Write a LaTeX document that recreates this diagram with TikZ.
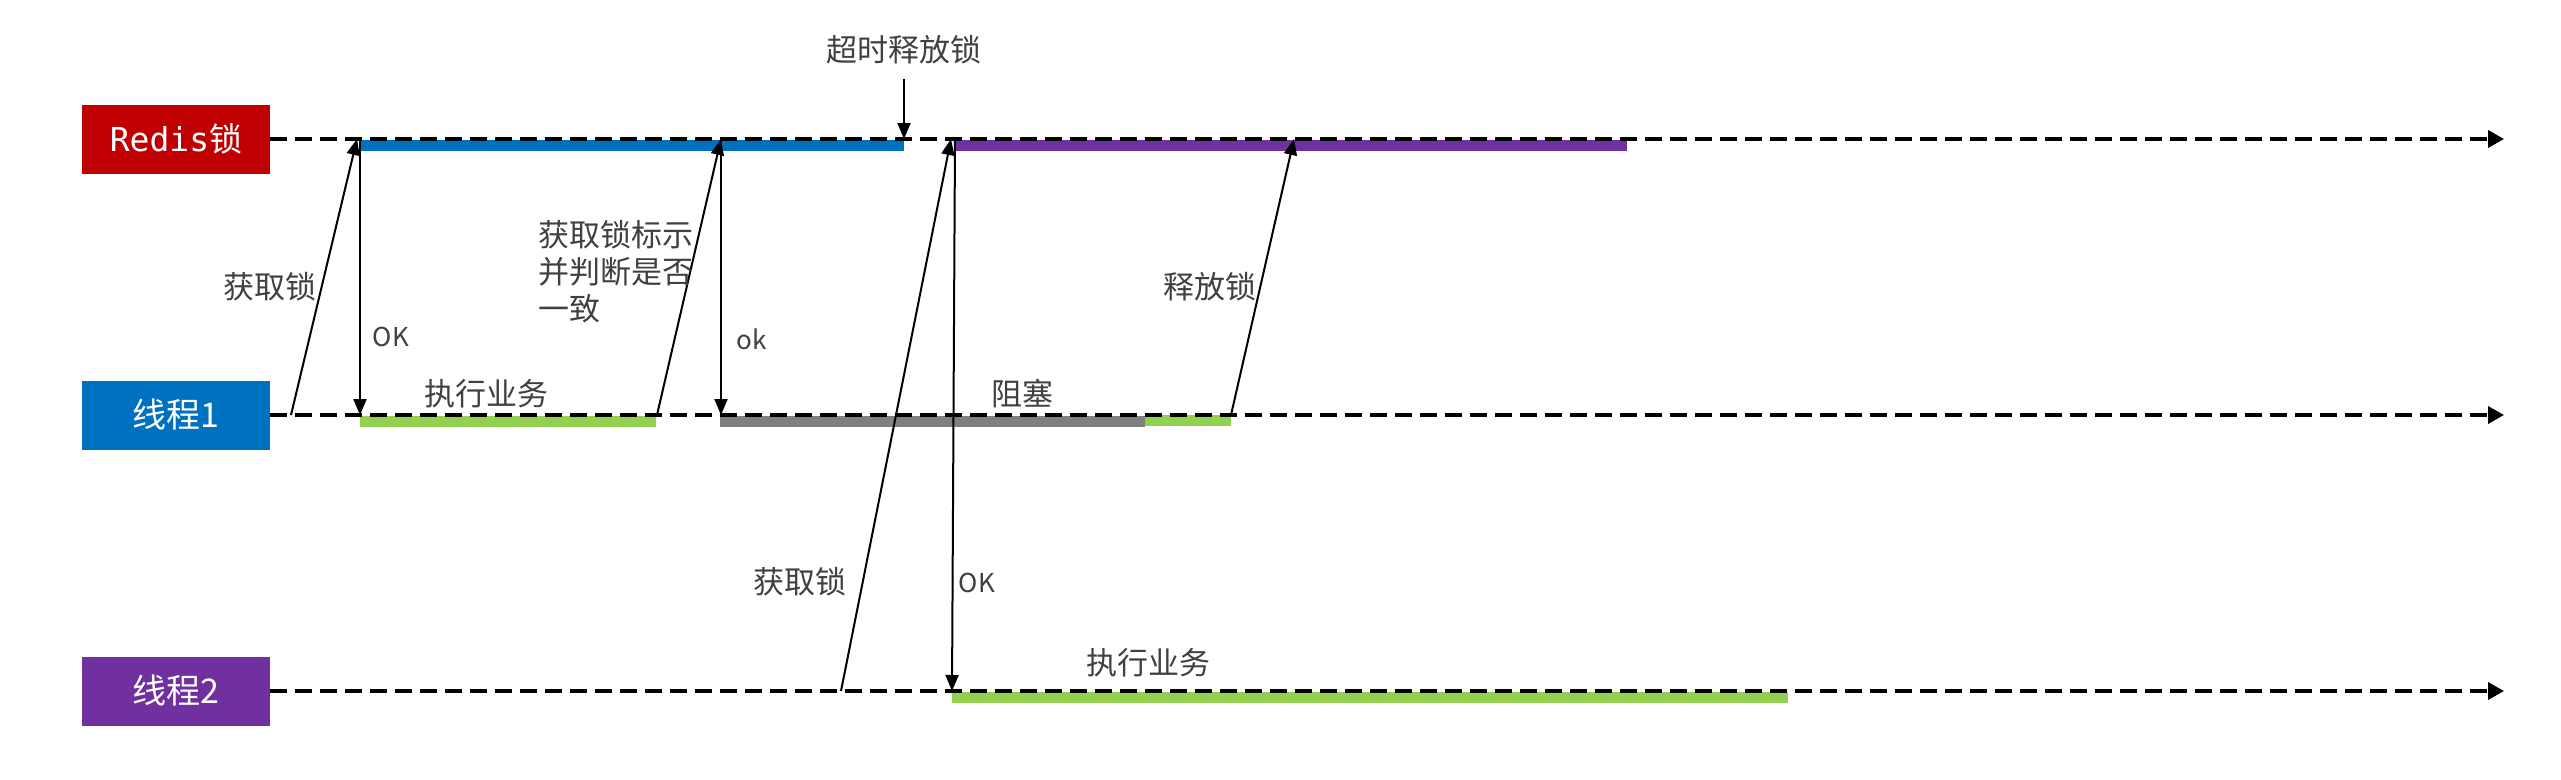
\documentclass[tikz,border=0pt]{standalone}
\usepackage{fontspec}
\setmainfont{Noto Sans CJK SC}
\setmonofont{DejaVu Sans Mono}
\usetikzlibrary{arrows.meta,positioning}
\definecolor{lockred}{HTML}{C00000}
\definecolor{threadblue}{HTML}{0070C0}
\definecolor{threadpurple}{HTML}{7030A0}
\definecolor{busygreen}{HTML}{92D050}
\definecolor{waitgray}{HTML}{808080}
\definecolor{tagtext}{HTML}{404040}
\tikzset{
    %Define standard arrow tip
    >={Triangle[length=16pt,width=13pt]},
    %Define style for lane boxes
    lane/.style={
           rectangle,
           minimum width=188pt,
           minimum height=69pt,
           inner sep=0pt,
           text=white,
           font=\fontsize{34}{40}\selectfont},
    % Define style for labels
    tag/.style={
           text=tagtext,
           inner sep=0pt,
           font=\fontsize{31}{37}\selectfont},
    oktag/.style={
           tag,
           font=\fontsize{26}{30}\selectfont},
    % Define time line style
    timeline/.style={
           -{Triangle[length=16pt,width=17pt]},
           line width=3.5pt,
           dash pattern=on 17pt off 8pt},
    % Define message arrow style
    msg/.style={
           ->,
           line width=2pt},
    % Define state bar style
    statebar/.style={
           line width=11pt}
}
\begin{document}
\begin{tikzpicture}[x=1pt,y=-1pt]
\useasboundingbox (0,0) rectangle (2561,779);
% lanes
\node[lane, fill=lockred](redis) at (176,139){\fontsize{33}{40}\selectfont\ttfamily Redis\rmfamily 锁};
\node[lane, fill=threadblue](t1) at (176,415){线程1};
\node[lane, fill=threadpurple](t2) at (176,691){线程2};
\coordinate (redisend) at (2504,139);
\coordinate (t1end) at (2504,415);
\coordinate (t2end) at (2504,691);
% state bars
\draw[statebar, threadblue] (360,145) -- (904,145);
\draw[statebar, threadpurple] (956,145) -- (1627,145);
\draw[statebar, busygreen] (360,421) -- (656,421);
\draw[statebar, waitgray] (720,421) -- (1145,421);
\draw[statebar, busygreen] (1145,420) -- (1231,420);
\draw[statebar, busygreen] (952,697) -- (1788,697);
% time lines
\draw[timeline] (redis.east) -- (redisend);
\draw[timeline] (t1.east) -- (t1end);
\draw[timeline] (t2.east) -- (t2end);
% message points
\coordinate (a1) at (291,415);
\coordinate (b1) at (357,139);
\coordinate (k1) at (360,139);
\coordinate (d1) at (360,415);
\coordinate (a2) at (657,415);
\coordinate (b2) at (721,139);
\coordinate (d2) at (721,415);
\coordinate (to) at (904,79);
\coordinate (tx) at (904,139);
\coordinate (a3) at (841,691);
\coordinate (b3) at (951,139);
\coordinate (k3) at (955,139);
\coordinate (d3) at (952,691);
\coordinate (a4) at (1231,415);
\coordinate (b4) at (1294,139);
% messages
\draw[msg] (a1) -- (b1);
\draw[msg] (k1) -- (d1);
\draw[msg] (a2) -- (b2);
\draw[msg] (b2) -- (d2);
\draw[msg] (to) -- (tx);
\draw[msg] (a3) -- (b3);
\draw[msg] (k3) -- (d3);
\draw[msg] (a4) -- (b4);
% labels
\node[tag](timeout) at (904,50){超时释放锁};
\node[tag](get1) at (270,287){获取锁};
\node[tag, align=left, anchor=west](check) at (538,272){获取锁标示\\并判断是否\\一致};
\node[tag](work1) at (486,394){执行业务};
\node[tag](block) at (1022,394){阻塞};
\node[tag](free) at (1210,287){释放锁};
\node[tag](get2) at (800,582){获取锁};
\node[tag](work2) at (1148,663){执行业务};
\node[oktag](ok1) at (391,337){OK};
\node[oktag](ok2) at (752,339){ok};
\node[oktag](ok3) at (977,583){OK};
\end{tikzpicture}
\end{document}
